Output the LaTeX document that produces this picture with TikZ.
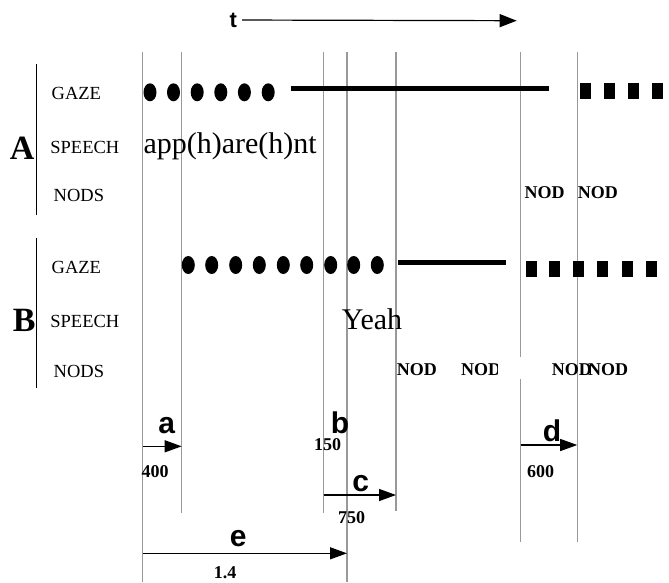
\documentclass[tikz,border=0pt]{standalone}
\usepackage{fontspec}
\setmainfont{Liberation Serif}
\setsansfont{Liberation Sans}
\usetikzlibrary{arrows.meta}

\begin{document}
\begin{tikzpicture}[x=1pt,y=-1pt,inner sep=0pt,
    tick/.style={draw=black!40,line width=1.2pt},
    row/.style={anchor=west,font=\fontsize{18.5}{20}\selectfont},
    who/.style={font=\fontsize{34}{36}\selectfont\bfseries},
    talk/.style={anchor=base west,font=\fontsize{30}{32}\selectfont},
    nod/.style={anchor=west,font=\fontsize{18}{20}\selectfont\bfseries},
    msr/.style={font=\fontsize{18}{20}\selectfont\bfseries},
    tag/.style={anchor=base,font=\fontsize{30}{32}\selectfont\sffamily\bfseries},
    dur/.style={line width=1.3pt,-{Triangle[length=17pt,width=12pt]}},
    gazeline/.style={line width=5.5pt}]
  \useasboundingbox (0,0) rectangle (669,582);

  % time axis
  \node[font=\fontsize{22}{24}\selectfont\sffamily\bfseries] (t) at (233.3,20) {t};
  \coordinate (tend) at (516.7,20.7);
  \draw[line width=1.2pt,shorten <=5pt,-{Triangle[length=17pt,width=13pt]}] (t) -- (tend);

  % event lines
  \foreach \x/\y [count=\i] in {142.7/582,181.7/513,323.5/513,347/582,396/511,520.8/542,577.2/542}{
    \coordinate (top\i) at (\x,52);
    \coordinate (bot\i) at (\x,\y);
    \draw[tick] (top\i) -- (bot\i);
  }

  % speaker A
  \draw[line width=1.5pt] (36.7,64) -- (36.7,215);
  \node[who] (A) at (22.2,148) {A};
  \node[row] (gazeA) at (51.5,93.3) {GAZE};
  \node[row] (speechA) at (50.2,147) {SPEECH};
  \node[row] (nodsA) at (53.5,195) {NODS};
  \foreach \x in {150,173.5,197.2,220.8,244.4,268.2}
    \fill (\x,92.3) ellipse[x radius=6.5pt,y radius=9pt];
  \coordinate (gA0) at (291,88.5);
  \coordinate (gA1) at (549,88.5);
  \draw[gazeline] (gA0) -- (gA1);
  \foreach \x in {580,604,627.7,651.7}
    \fill (\x,83.3) rectangle ++(11,15.7);
  \node[talk] (uttA) at (143.3,153.3) {app(h)are(h)nt};
  \node[nod] (nodA1) at (524.3,193) {NOD};
  \node[nod] (nodA2) at (577.7,193) {NOD};

  % speaker B
  \draw[line width=1.5pt] (36.7,238) -- (36.7,388);
  \node[who] (B) at (24.2,320) {B};
  \node[row] (gazeB) at (51.5,267) {GAZE};
  \node[row] (speechB) at (50.2,321.7) {SPEECH};
  \node[row] (nodsB) at (53.5,371.7) {NODS};
  \foreach \x in {188.3,211.7,235.7,259.3,283.3,306.7,330.7,353.7,377.3}
    \fill (\x,265) ellipse[x radius=6.5pt,y radius=9pt];
  \coordinate (gB0) at (398.3,262.5);
  \coordinate (gB1) at (506,262.5);
  \draw[gazeline] (gB0) -- (gB1);
  \foreach \x in {525.7,549.3,572.7,596.7,622.3,646}
    \fill (\x,260.7) rectangle ++(11,16);
  \node[talk] (uttB) at (341.7,329.3) {Yeah};
  \node[nod] (nodB1) at (396.7,370) {NOD};
  \node[nod] (nodB2) at (461,370) {NOD};
  \node[nod] (nodB3) at (551.7,370) {NOD};
  \node[nod] (nodB4) at (588,370) {NOD};
  \fill[white] (497.5,356.5) rectangle (524,378.5);

  % intervals
  \coordinate (a0) at (142.7,446.3);
  \coordinate (a1) at (181.7,446.3);
  \draw[dur] (a0) -- (a1);
  \coordinate (c0) at (323.5,495);
  \coordinate (c1) at (396,495);
  \draw[dur] (c0) -- (c1);
  \coordinate (d0) at (520.8,445);
  \coordinate (d1) at (577.2,445);
  \draw[dur] (d0) -- (d1);
  \coordinate (e0) at (142.7,553.3);
  \coordinate (e1) at (347,553.3);
  \draw[dur] (e0) -- (e1);
  \node[tag] (la) at (166.7,433.3) {a};
  \node[tag] (lb) at (340,433.3) {b};
  \node[tag] (lc) at (360.8,491.7) {c};
  \node[tag] (ld) at (552,441.7) {d};
  \node[tag] (le) at (238.3,546.7) {e};
  \node[msr] (n400) at (155,471.7) {400};
  \node[msr] (n150) at (327.7,445) {150};
  \node[msr] (n750) at (351.7,517.3) {750};
  \node[msr] (n600) at (540.7,471.7) {600};
  \node[msr] (n14) at (225,572.7) {1.4};
\end{tikzpicture}
\end{document}
